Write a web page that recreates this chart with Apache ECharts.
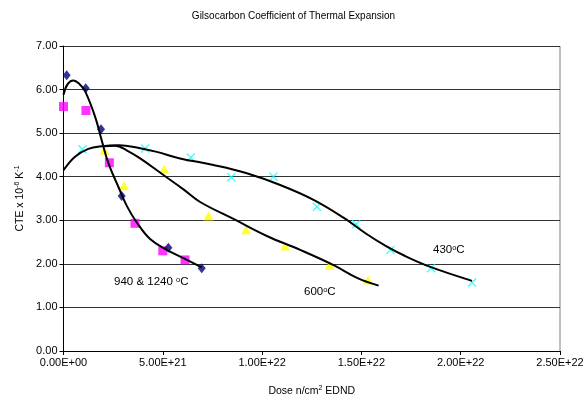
<!DOCTYPE html>
<html>
<head>
<meta charset="utf-8">
<script src="https://cdn.jsdelivr.net/npm/echarts@6/dist/echarts.min.js"></script>
<style>
  html, body { margin: 0; padding: 0; background: #fff; }
  #chart { width: 587px; height: 397px; }
</style>
</head>
<body>
<div id="chart"></div>
<script>
// measured points, dose in n/cm2 EDND, CTE in 1e-6 /K
const hiTempDiamonds = [
  [0.16e21, 6.33], [1.12e21, 6.03], [1.89e21, 5.09],
  [2.93e21, 3.56], [5.28e21, 2.37], [6.96e21, 1.90]
]
const hiTempSquares = [
  [0.0, 5.61], [1.13e21, 5.52], [2.31e21, 4.32],
  [3.60e21, 2.93], [5.00e21, 2.30], [6.12e21, 2.09]
]
const temp600 = [
  [2.06e21, 4.61], [3.05e21, 3.79], [5.07e21, 4.17], [7.30e21, 3.10],
  [9.20e21, 2.78], [11.16e21, 2.41], [13.40e21, 1.97], [15.33e21, 1.63]
]
const temp430 = [
  [0.95e21, 4.63], [4.11e21, 4.65], [6.41e21, 4.44], [8.45e21, 3.99],
  [10.57e21, 4.00], [12.76e21, 3.31], [14.74e21, 2.91], [16.46e21, 2.32],
  [18.50e21, 1.90], [20.57e21, 1.57]
]

// trend curves
const trendHi = [
  [0, 5.88], [0.2e21, 6.12], [0.49e21, 6.21], [0.8e21, 6.13], [1.08e21, 5.97],
  [1.59e21, 5.38], [1.92e21, 4.84], [2.26e21, 4.31], [2.76e21, 3.77],
  [3.2e21, 3.32], [3.69e21, 2.95], [4.36e21, 2.57], [5.2e21, 2.32],
  [6.04e21, 2.13], [6.96e21, 1.92]
]
const trend600 = [
  [2.0e21, 4.70], [2.6e21, 4.71], [3.2e21, 4.60], [3.86e21, 4.42],
  [5.03e21, 4.04], [6.04e21, 3.71], [6.88e21, 3.42], [8.56e21, 3.03],
  [10.24e21, 2.64], [11.92e21, 2.32], [13.6e21, 1.97], [14.78e21, 1.68],
  [15.87e21, 1.50]
]
const trend430 = [
  [0, 4.15], [0.58e21, 4.46], [1.25e21, 4.64], [1.92e21, 4.70], [2.8e21, 4.72],
  [3.8e21, 4.66], [4.7e21, 4.57], [5.87e21, 4.42], [7.55e21, 4.27],
  [9.23e21, 4.08], [10.91e21, 3.81], [12.59e21, 3.47], [14.1e21, 3.06],
  [15.28e21, 2.68], [16.2e21, 2.42], [17.2e21, 2.18], [18.47e21, 1.93],
  [20.57e21, 1.61]
]

const xTicks = [0, 5e21, 1e22, 1.5e22, 2e22, 2.5e22]
const yTicks = [0, 1, 2, 3, 4, 5, 6, 7]

const font = 'Liberation Sans, Arial, sans-serif'
const crossPath = 'path://M0,1L1,0L5,4L9,0L10,1L6,5L10,9L9,10L5,6L1,10L0,9L4,5Z'
const sup = { fontSize: 7, verticalAlign: 'top', padding: [0, 0, 5, 0], fontFamily: font, color: '#000' }

const fmtSci = v => {
  const [m, e] = v.toExponential(2).split('e')
  const n = parseInt(e, 10)
  return m + 'E' + (n < 0 ? '-' : '+') + String(Math.abs(n)).padStart(2, '0')
}

const chart = echarts.init(document.getElementById('chart'))

const trendLine = data => ({
  type: 'line',
  data,
  smooth: 0.4,
  showSymbol: false,
  silent: true,
  lineStyle: { color: '#000', width: 2 },
  z: 3
})

const annot = (left, top, txt) => ({
  type: 'text',
  left, top,
  style: {
    text: txt,
    fontFamily: font,
    fontSize: 11.5,
    fill: '#000',
    rich: { s: { fontSize: 7.5, verticalAlign: 'top', fontFamily: font, fill: '#000', padding: [0, 0, 4, 0] } }
  }
})

chart.setOption({
  backgroundColor: '#fff',
  animation: false,
  title: {
    text: 'Gilsocarbon Coefficient of Thermal Expansion',
    left: 'center',
    top: 6,
    textStyle: { fontFamily: font, fontSize: 10, fontWeight: 'normal', color: '#000' }
  },
  grid: { left: 63.5, right: 27, top: 46, bottom: 46, outerBoundsMode: 'none' },
  xAxis: {
    type: 'value',
    min: xTicks[0],
    max: xTicks[xTicks.length - 1],
    interval: 5e21,
    name: 'Dose n/cm{s|2} EDND',
    nameLocation: 'middle',
    nameGap: 34,
    nameTextStyle: { fontFamily: font, fontSize: 10.5, color: '#000', rich: { s: sup } },
    axisLine: { show: true, lineStyle: { color: '#000', width: 1 } },
    axisTick: { show: true, inside: false, length: 4, lineStyle: { color: '#000' } },
    axisLabel: { fontFamily: font, fontSize: 11, color: '#000', margin: 6, formatter: fmtSci },
    splitLine: { show: false }
  },
  yAxis: {
    type: 'value',
    min: yTicks[0],
    max: yTicks[yTicks.length - 1],
    interval: 1,
    name: 'CTE x 10{s|-6} K{s|-1}',
    nameLocation: 'middle',
    nameGap: 37,
    nameRotate: 90,
    nameTextStyle: { fontFamily: font, fontSize: 10.5, color: '#000', rich: { s: sup } },
    axisLine: { show: true, lineStyle: { color: '#000', width: 1 } },
    axisTick: { show: true, inside: false, length: 4, lineStyle: { color: '#000' } },
    axisLabel: { fontFamily: font, fontSize: 11, color: '#000', margin: 6, formatter: v => v.toFixed(2) },
    splitLine: { show: true, lineStyle: { color: '#333', width: 1 } }
  },
  graphic: [
    { type: 'line', shape: { x1: 560, y1: 46, x2: 560, y2: 351 }, style: { stroke: '#808080', lineWidth: 1 } },
    annot(114, 276, '940 & 1240 {s|o}C'),
    annot(304, 286, '600{s|o}C'),
    annot(433, 244, '430{s|o}C')
  ],
  series: [
    trendLine(trendHi),
    trendLine(trend600),
    trendLine(trend430),
    {
      type: 'scatter', data: hiTempSquares, symbol: 'rect', symbolSize: 9,
      itemStyle: { color: '#ff00ff' }, z: 2
    },
    {
      type: 'scatter', data: hiTempDiamonds, symbol: 'diamond', symbolSize: [8, 10],
      itemStyle: { color: '#000080' }, z: 2
    },
    {
      type: 'scatter', data: temp600, symbol: 'triangle', symbolSize: [10, 9],
      itemStyle: { color: '#ffff00' }, z: 2
    },
    {
      type: 'scatter', data: temp430, symbol: crossPath, symbolSize: 9,
      itemStyle: { color: '#00ffff' }, z: 2
    }
  ]
})
</script>
</body>
</html>
